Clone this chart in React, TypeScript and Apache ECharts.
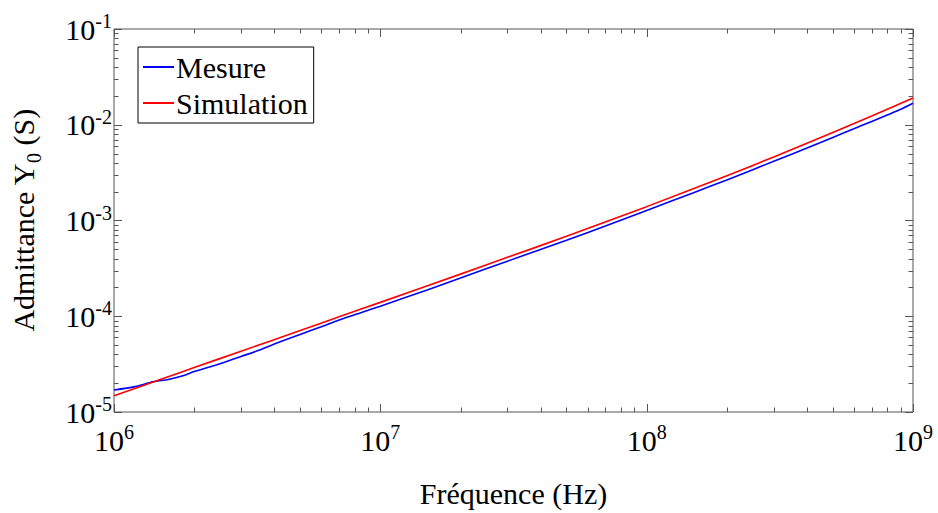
import React, { useEffect, useRef } from "react";
import * as echarts from "echarts";

const SERIES_NAMES = ["Mesure", "Simulation"];

const FREQ_MES = [1e6, 1.2e6, 1.4e6, 1.6e6, 1.8e6, 2e6, 2.3e6, 2.6e6, 3e6, 3.5e6, 4e6, 5e6, 6e6, 7e6, 8.5e6, 1e7, 1.5e7, 2e7, 3e7, 5e7, 7e7, 1e8, 1.5e8, 2e8, 3e8, 4e8, 5e8, 6e8, 7e8, 8e8, 9e8, 1e9];
const Y_MES = [1.698e-5, 1.841e-5, 2.065e-5, 2.188e-5, 2.371e-5, 2.642e-5, 2.965e-5, 3.311e-5, 3.802e-5, 4.416e-5, 5.129e-5, 6.457e-5, 7.762e-5, 9.12e-5, 1.096e-4, 1.274e-4, 1.884e-4, 2.512e-4, 3.758e-4, 6.237e-4, 8.75e-4, 1.274e-3, 1.95e-3, 2.655e-3, 4.15e-3, 5.728e-3, 7.379e-3, 9.078e-3, 1.084e-2, 1.265e-2, 1.452e-2, 1.675e-2];

const FREQ_SIM = [1e6, 1.5e6, 2e6, 3e6, 5e6, 7e6, 1e7, 2e7, 3e7, 5e7, 1e8, 2e8, 3e8, 5e8, 7e8, 1e9];
const Y_SIM = [1.479e-5, 2.198e-5, 2.911e-5, 4.315e-5, 7.079e-5, 9.886e-5, 1.396e-4, 2.754e-4, 4.121e-4, 6.839e-4, 1.396e-3, 2.931e-3, 4.613e-3, 8.299e-3, 1.233e-2, 1.905e-2];

const X_MIN = 1e6;
const X_MAX = 1e9;
const Y_MIN = 1e-5;
const Y_MAX = 1e-1;

const X_DECADES = [6, 7, 8];
const Y_DECADES = [-5, -4, -3, -2];
const MULTS = [1, 2, 3, 4, 5, 6, 7, 8, 9];

const FONT = "Liberation Serif";
const FRAME = "#555555";

export default function App() {
  const ref = useRef<HTMLDivElement>(null);

  useEffect(() => {
    if (!ref.current) return;
    const chart = echarts.init(ref.current, undefined, { renderer: "svg" });

    const xTicks: number[][] = [];
    X_DECADES.forEach((d) => MULTS.forEach((m) => xTicks.push([m * Math.pow(10, d), Y_MIN, m === 1 ? 1 : 0])));
    xTicks.push([X_MAX, Y_MIN, 1]);
    const yTicks: number[][] = [];
    Y_DECADES.forEach((d) => MULTS.forEach((m) => yTicks.push([X_MIN, m * Math.pow(10, d), m === 1 ? 1 : 0])));
    yTicks.push([X_MIN, Y_MAX, 1]);

    const expLabel = (v: number) => `{b|10}{s|${Math.round(Math.log10(v))}}`;
    const rich = {
      b: { fontSize: 30, fontFamily: FONT, color: "#000" },
      s: { fontSize: 20, fontFamily: FONT, color: "#000", padding: [0, 0, 16, 0] },
    };
    const tickStyle = { stroke: FRAME, lineWidth: 1 };

    chart.setOption({
      animation: false,
      backgroundColor: "#fff",
      grid: { left: 113, right: 25, top: 29, bottom: 100, show: true, borderColor: FRAME, borderWidth: 1 },
      legend: {
        data: SERIES_NAMES,
        orient: "vertical",
        left: 138,
        top: 47,
        padding: [5, 6, 5, 5],
        itemGap: 6,
        itemWidth: 31,
        itemHeight: 2,
        icon: "rect",
        backgroundColor: "#fff",
        borderColor: "#000",
        borderWidth: 1,
        borderRadius: 0,
        textStyle: { fontSize: 30, fontFamily: FONT, color: "#000", lineHeight: 30, padding: [0, 0, 0, -3] },
      },
      xAxis: {
        type: "log",
        logBase: 10,
        min: X_MIN,
        max: X_MAX,
        axisLine: { show: false },
        axisTick: { show: false },
        splitLine: { show: false },
        axisLabel: { formatter: expLabel, rich, margin: 10 },
        name: "Fréquence (Hz)",
        nameLocation: "middle",
        nameGap: 66,
        nameTextStyle: { fontSize: 30, fontFamily: FONT, color: "#000" },
      },
      yAxis: {
        type: "log",
        logBase: 10,
        min: Y_MIN,
        max: Y_MAX,
        axisLine: { show: false },
        axisTick: { show: false },
        splitLine: { show: false },
        axisLabel: { formatter: expLabel, rich, margin: 2 },
        name: "Admittance Y{sub|0} (S)",
        nameLocation: "middle",
        nameGap: 70,
        nameTextStyle: {
          fontSize: 30,
          fontFamily: FONT,
          color: "#000",
          rich: {
            sub: { fontSize: 20, fontFamily: FONT, color: "#000", padding: [22, 0, 0, 0] },
          },
        },
      },
      series: [
        {
          name: SERIES_NAMES[0],
          type: "line",
          data: FREQ_MES.map((f, i) => [f, Y_MES[i]]),
          showSymbol: false,
          smooth: 0.3,
          lineStyle: { color: "#0000ff", width: 1.6 },
          itemStyle: { color: "#0000ff" },
        },
        {
          name: SERIES_NAMES[1],
          type: "line",
          data: FREQ_SIM.map((f, i) => [f, Y_SIM[i]]),
          showSymbol: false,
          smooth: 0.3,
          lineStyle: { color: "#ff0000", width: 1.6 },
          itemStyle: { color: "#ff0000" },
        },
        {
          type: "custom",
          silent: true,
          clip: false,
          data: xTicks,
          renderItem: (params: any, api: any) => {
            const p = api.coord([api.value(0), api.value(1)]);
            const cs = params.coordSys;
            const len = api.value(2) ? 8 : 4.5;
            const x = Math.round(p[0]) + 0.5;
            return {
              type: "group",
              children: [
                { type: "line", shape: { x1: x, y1: cs.y + cs.height, x2: x, y2: cs.y + cs.height - len }, style: tickStyle },
                { type: "line", shape: { x1: x, y1: cs.y, x2: x, y2: cs.y + len }, style: tickStyle },
              ],
            };
          },
        },
        {
          type: "custom",
          silent: true,
          clip: false,
          data: yTicks,
          renderItem: (params: any, api: any) => {
            const p = api.coord([api.value(0), api.value(1)]);
            const cs = params.coordSys;
            const len = api.value(2) ? 8 : 4.5;
            const y = Math.round(p[1]) + 0.5;
            return {
              type: "group",
              children: [
                { type: "line", shape: { x1: cs.x, y1: y, x2: cs.x + len, y2: y }, style: tickStyle },
                { type: "line", shape: { x1: cs.x + cs.width, y1: y, x2: cs.x + cs.width - len, y2: y }, style: tickStyle },
              ],
            };
          },
        },
      ],
    });

    return () => chart.dispose();
  }, []);

  return (
    <div
      ref={ref}
      style={{ position: "fixed", left: 0, top: 0, width: 938, height: 513, background: "#fff" }}
    />
  );
}
